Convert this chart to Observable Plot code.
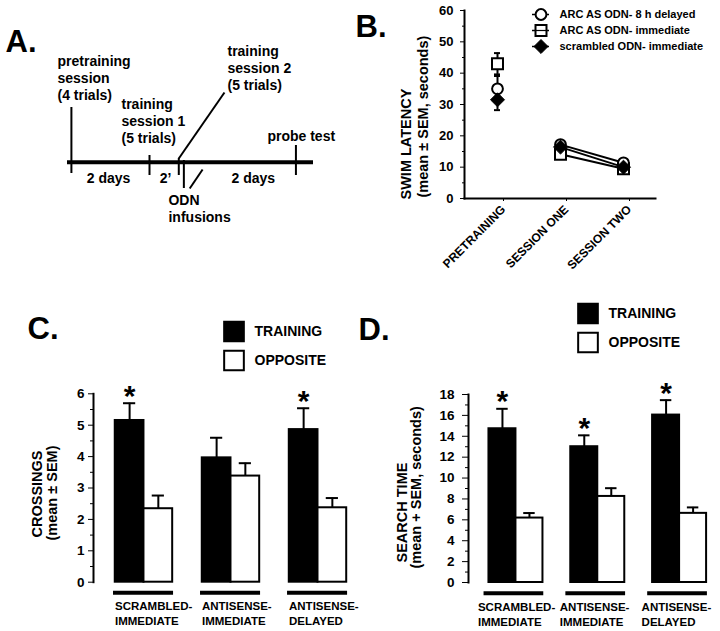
<!DOCTYPE html>
<html><head><meta charset="utf-8">
<script src="https://cdn.jsdelivr.net/npm/d3@7"></script>
<script src="https://cdn.jsdelivr.net/npm/@observablehq/plot@0.6"></script>
<style>
html,body{margin:0;padding:0;background:#fff;}
#fig{position:relative;width:720px;height:631px;overflow:hidden;background:#fff;}
#fig svg{position:absolute;overflow:visible;}
</style></head><body><div id="fig"></div>
<script>
// ================= DATA =================
// Panel A: schematic timeline (x in schematic time units)
const eventNames = ["pretraining\nsession\n(4 trials)", "training\nsession 1\n(5 trials)", "training\nsession 2\n(5 trials)", "probe test"];
const eventTimes = [0, 2, 2.75, 5.75];
const intervalNames = ["2 days", "2\u2019", "2 days"];
const infusionName = "ODN\ninfusions";
const infusionTime = 2.88;

// Panel B: swim latency
const sessions = ["PRETRAINING", "SESSION ONE", "SESSION TWO"];
const seriesB = ["ARC AS ODN- 8 h delayed", "ARC AS ODN- immediate", "scrambled ODN- immediate"];
const latencyDelayed = [35.0, 17.2, 11.4];
const semDelayed = [4.1, 1.0, 1.0];
const latencyImmediate = [43.0, 14.1, 9.5];
const semImmediate = [3.4, 1.0, 1.0];
const latencyScrambled = [31.5, 16.4, 10.0];
const semScrambled = [3.3, 1.2, 1.0];
const latencyTicks = [0, 10, 20, 30, 40, 50, 60];
const latencyMinor = [5, 15, 25, 35, 45, 55];

// Panels C & D
const groups = ["SCRAMBLED-\nIMMEDIATE", "ANTISENSE-\nIMMEDIATE", "ANTISENSE-\nDELAYED"];
const quadrants = ["TRAINING", "OPPOSITE"];

const crossingsTraining = [5.15, 3.96, 4.86];
const crossingsTrainingSem = [0.55, 0.64, 0.68];
const crossingsOpposite = [2.34, 3.38, 2.37];
const crossingsOppositeSem = [0.42, 0.41, 0.31];
const crossingsSig = [true, false, true];
const crossingsTicks = [0, 1, 2, 3, 4, 5, 6];
const crossingsMinor = [0.5, 1.5, 2.5, 3.5, 4.5, 5.5];

const searchTraining = [14.72, 13.0, 16.03];
const searchTrainingSem = [1.91, 1.09, 1.43];
const searchOpposite = [6.17, 8.24, 6.62];
const searchOppositeSem = [0.48, 0.79, 0.57];
const searchSig = [true, true, true];
const searchTicks = [0, 2, 4, 6, 8, 10, 12, 14, 16, 18];
const searchMinor = [1, 3, 5, 7, 9, 11, 13, 15, 17];

// ================= LAYOUT / STYLE =================
const FONT = "'Liberation Sans', Arial, Helvetica, sans-serif";
const baseStyle = {fontFamily: FONT, fontSize: "13px", fontWeight: "bold", background: "transparent", overflow: "visible", color: "black"};
const intFmt = d3.format("d");
const fig = document.getElementById("fig");
function place(svg, left, top) {
  svg.style.position = "absolute";
  svg.style.left = left + "px";
  svg.style.top = top + "px";
  fig.appendChild(svg);
}

// ================= PANEL A =================
const AL = {
  lineY: 161.7,
  tickTop: [107, 155, 158, 145], tickBottom: [173, 175, 175, 175],
  labelX: [-0.356, 1.283, 3.997, 5.02], labelBase: [99, 142, 89, 140],
  intervalX: [0.95, 2.41, 4.66], intervalBase: 182,
  infTop: 160, infBottom: 188, infLabelX: 2.486, infLabelBase: 221,
  leader: {x1: 2.75, y1: 158, x2: 3.92, y2: 92},
  slash: {x1: 3.03, y1: 188, x2: 3.36, y2: 169}
};
const plotA = Plot.plot({
  width: 330, height: 260, margin: 0, style: baseStyle,
  x: {domain: [-0.1, 6.2], range: [67, 313], axis: null},
  y: {domain: [0, 260], range: [0, 260], axis: null},
  marks: [
    Plot.ruleY([AL.lineY], {x1: -0.1, x2: 6.2, strokeWidth: 4}),
    Plot.ruleX(eventTimes, {x: d => d, y1: (d, i) => AL.tickTop[i], y2: (d, i) => AL.tickBottom[i], strokeWidth: 2}),
    Plot.ruleX([infusionTime], {x: d => d, y1: AL.infTop, y2: AL.infBottom, strokeWidth: 2}),
    Plot.link([AL.leader, AL.slash], {x1: "x1", y1: "y1", x2: "x2", y2: "y2", strokeWidth: 2}),
    Plot.text(eventNames, {x: (d, i) => AL.labelX[i], y: (d, i) => AL.labelBase[i], text: d => d,
      textAnchor: "start", lineAnchor: "bottom", lineHeight: 1.19, fontSize: 14, fontWeight: "bold"}),
    Plot.text(intervalNames, {x: (d, i) => AL.intervalX[i], y: AL.intervalBase, text: d => d,
      textAnchor: "middle", lineAnchor: "bottom", fontSize: 14, fontWeight: "bold"}),
    Plot.text([infusionName], {x: AL.infLabelX, y: AL.infLabelBase, text: d => d,
      textAnchor: "start", lineAnchor: "bottom", lineHeight: 1.19, fontSize: 14, fontWeight: "bold"}),
    Plot.text(["A."], {frameAnchor: "top-left", dx: 5, dy: 51, textAnchor: "start", lineAnchor: "bottom", fontSize: 31, fontWeight: "bold"})
  ]
});
place(plotA, 0, 0);

// ================= PANEL B =================
const latB = [latencyDelayed, latencyImmediate, latencyScrambled];
const semB = [semDelayed, semImmediate, semScrambled];
const tableB = [];
seriesB.forEach((s, si) => sessions.forEach((sess, j) => tableB.push({series: s, session: sess, value: latB[si][j], sem: semB[si][j]})));
const bySeries = s => tableB.filter(d => d.series === s);

const plotB = Plot.plot({
  width: 380, height: 282, marginLeft: 124, marginRight: 65, marginTop: 10, marginBottom: 84,
  style: baseStyle,
  x: {type: "band", domain: sessions, paddingInner: 0.905, paddingOuter: 0.46},
  y: {domain: [0, 60], label: null},
  marks: [
    Plot.axisY({ticks: latencyTicks, tickSize: 4, tickPadding: 7, tickFormat: intFmt, fontSize: 13, fontWeight: "bold", label: null}),
    Plot.axisY({ticks: latencyMinor, tickSize: 2, tickFormat: () => "", label: null}),
    Plot.axisX({tickSize: 3, tickRotate: -45, tickPadding: 6, dx: 6, fontSize: 12, fontWeight: "bold", label: null}),
    Plot.frame({anchor: "left", strokeWidth: 2}),
    Plot.frame({anchor: "bottom", strokeWidth: 2}),
    Plot.line(tableB.filter(d => d.session !== sessions[0]), {x: "session", y: "value", z: "series", stroke: "black", strokeWidth: 2}),
    Plot.ruleX(tableB, {x: "session", y1: d => d.value - d.sem, y2: d => d.value + d.sem, strokeWidth: 2}),
    Plot.tickY(tableB, {x: "session", y: d => d.value + d.sem, strokeWidth: 2}),
    Plot.tickY(tableB, {x: "session", y: d => d.value - d.sem, strokeWidth: 2}),
    Plot.dot(bySeries(seriesB[1]), {x: "session", y: "value", symbol: "square", r: 6.2, fill: "white", stroke: "black", strokeWidth: 2}),
    Plot.dot(bySeries(seriesB[0]), {x: "session", y: "value", symbol: "circle", r: 5.4, fill: "white", stroke: "black", strokeWidth: 2}),
    Plot.dot(bySeries(seriesB[2]), {x: "session", y: "value", symbol: "diamond2", r: 6.3, fill: "black", stroke: "black", strokeWidth: 1}),
    Plot.text(["SWIM LATENCY"], {frameAnchor: "bottom-left", dx: -58, dy: 1, rotate: -90, textAnchor: "start", lineAnchor: "middle", fontSize: 14.5, fontWeight: "bold"}),
    Plot.text(["(mean \u00b1 SEM, seconds)"], {frameAnchor: "bottom-left", dx: -41.5, dy: -1, rotate: -90, textAnchor: "start", lineAnchor: "middle", fontSize: 14.5, fontWeight: "bold"}),
    Plot.text(["B."], {frameAnchor: "top-left", dx: -109, dy: 26, textAnchor: "start", lineAnchor: "bottom", fontSize: 31, fontWeight: "bold"})
  ]
});
place(plotB, 340, 0);

// Legend B
const symB = ["circle", "square", "diamond2"];
const rB = [5.4, 6.2, 6.3];
const fillB = ["white", "white", "black"];
const legendB = Plot.plot({
  width: 200, height: 60, margin: 0, style: baseStyle,
  x: {domain: [0, 200], range: [0, 200], axis: null},
  y: {type: "point", domain: seriesB, range: [13.5, 46.5], padding: 0, axis: null},
  marks: [
    Plot.ruleY(seriesB, {y: d => d, x1: 12, x2: 29, strokeWidth: 1.5}),
    ...seriesB.map((s, i) => Plot.dot([s], {y: d => d, x: 20.5, symbol: symB[i], r: rB[i], fill: fillB[i], stroke: "black", strokeWidth: i === 2 ? 1 : 2})),
    Plot.ruleY([seriesB[1]], {y: d => d, x1: 15, x2: 26, strokeWidth: 1.2}),
    Plot.text(seriesB, {y: d => d, x: 39, text: d => d, textAnchor: "start", fontSize: 11, fontWeight: "bold"})
  ]
});
place(legendB, 520, 0);

// ================= PANELS C & D =================
const BW = 0.33, CAP = 0.07;
function buildTable(train, trainSem, opp, oppSem, sig) {
  return groups.flatMap((g, i) => [
    {group: g, gi: i, quadrant: quadrants[0], value: train[i], hi: train[i] + trainSem[i], sig: sig[i], x1: i - BW, x2: i, cx: i - BW / 2},
    {group: g, gi: i, quadrant: quadrants[1], value: opp[i], hi: opp[i] + oppSem[i], sig: false, x1: i, x2: i + BW, cx: i + BW / 2}
  ]);
}
function barPanel(o) {
  const table = buildTable(o.train, o.trainSem, o.opp, o.oppSem, o.sig);
  const gt = groups.map((g, i) => ({label: g, gi: i}));
  return Plot.plot({
    width: o.width, height: 361, marginLeft: o.ml, marginRight: 0, marginTop: o.mt, marginBottom: o.mb,
    style: baseStyle,
    x: {domain: [-0.58, 2.5], axis: null},
    y: {domain: [0, o.ticks[o.ticks.length - 1]], label: null},
    marks: [
      Plot.axisY({ticks: o.ticks, tickSize: o.tickSize, tickPadding: o.tickPad, tickFormat: intFmt, fontSize: 13.5, fontWeight: "bold", label: null}),
      Plot.axisY({ticks: o.minor, tickSize: 3, tickFormat: () => "", label: null}),
      Plot.frame({anchor: "left", strokeWidth: 2}),
      Plot.rectY(table, {x1: "x1", x2: "x2", y1: 0, y2: "value", fill: d => d.quadrant === quadrants[0] ? "black" : "white", stroke: "black", strokeWidth: 2}),
      Plot.ruleX(table, {x: "cx", y1: "value", y2: "hi", strokeWidth: 2}),
      Plot.ruleY(table, {y: "hi", x1: d => d.cx - CAP, x2: d => d.cx + CAP, strokeWidth: 2}),
      Plot.text(table.filter(d => d.sig), {x: "cx", y: "hi", text: () => "*", textAnchor: "middle", lineAnchor: "bottom", dy: 2.5, fontSize: 30, fontWeight: "bold"}),
      Plot.ruleY(gt, {y: 0, x1: d => d.gi - o.ulL, x2: d => d.gi + 0.34, dy: o.ulDy, strokeWidth: 4}),
      Plot.text(gt, {x: "gi", y: 0, text: "label", textAnchor: "start", lineAnchor: "bottom", dx: o.labDx, dy: o.labDy, lineHeight: 1.22, fontSize: 11.5, fontWeight: "bold"}),
      Plot.text([o.title1], {frameAnchor: "bottom-left", dx: o.t1[0], dy: o.t1[1], rotate: -90, textAnchor: "start", lineAnchor: "middle", fontSize: 14.5, fontWeight: "bold"}),
      Plot.text([o.title2], {frameAnchor: "bottom-left", dx: o.t2[0], dy: o.t2[1], rotate: -90, textAnchor: "start", lineAnchor: "middle", fontSize: 14.5, fontWeight: "bold"}),
      Plot.text([o.letter], {frameAnchor: "top-left", dx: o.letterPos[0], dy: o.letterPos[1], textAnchor: "start", lineAnchor: "bottom", fontSize: 31, fontWeight: "bold"})
    ]
  });
}
function quadLegend() {
  return Plot.plot({
    width: 130, height: 70, margin: 0, style: baseStyle,
    x: {domain: [0, 130], range: [0, 130], axis: null},
    y: {type: "point", domain: quadrants, range: [21, 50], padding: 0, axis: null},
    marks: [
      Plot.dot(quadrants, {y: d => d, x: 18.5, symbol: "square", r: 11.1, fill: d => d === quadrants[0] ? "black" : "white", stroke: "black", strokeWidth: 2}),
      Plot.text(quadrants, {y: d => d, x: 39, text: d => d, textAnchor: "start", fontSize: 14, fontWeight: "bold"})
    ]
  });
}

const plotC = barPanel({
  train: crossingsTraining, trainSem: crossingsTrainingSem, opp: crossingsOpposite, oppSem: crossingsOppositeSem, sig: crossingsSig,
  ticks: crossingsTicks, minor: crossingsMinor, width: 361, ml: 93, mt: 123.3, mb: 49.3, tickSize: 5, tickPad: 4,
  ulL: 0.35, ulDy: 10.5, labDx: -29, labDy: 42.3,
  title1: "CROSSINGS", title2: "(mean \u00b1 SEM)", t1: [-56, -44.7], t2: [-41, -41.7],
  letter: "C.", letterPos: [-66, -55.3]
});
place(plotC, 0, 270);
const plotD = barPanel({
  train: searchTraining, trainSem: searchTrainingSem, opp: searchOpposite, oppSem: searchOppositeSem, sig: searchSig,
  ticks: searchTicks, minor: searchMinor, width: 365, ml: 113, mt: 124, mb: 49, tickSize: 6, tickPad: 8,
  ulL: 0.39, ulDy: 10.7, labDx: -38, labDy: 43,
  title1: "SEARCH TIME", title2: "(mean + SEM, seconds)", t1: [-66, -20], t2: [-52, -14],
  letter: "D.", letterPos: [-110, -55]
});
place(plotD, 355, 270);
const legC = quadLegend(); place(legC, 215, 310);
const legD = quadLegend(); place(legD, 569, 292);
</script></body></html>
